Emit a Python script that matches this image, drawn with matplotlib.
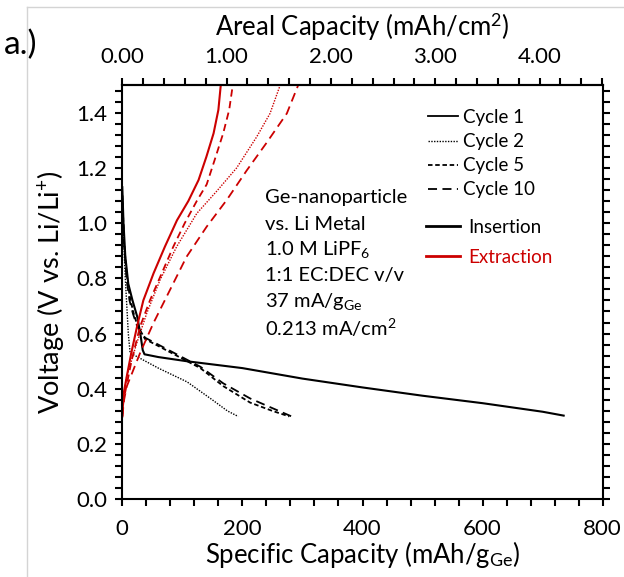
import matplotlib
matplotlib.use("Agg")
import matplotlib.pyplot as plt
from matplotlib.ticker import MultipleLocator, FormatStrFormatter
from matplotlib.lines import Line2D

FONT = "Lato"
plt.rcParams['font.family'] = [FONT, 'DejaVu Sans']
plt.rcParams['mathtext.fontset'] = 'custom'
plt.rcParams['mathtext.rm'] = FONT
plt.rcParams['mathtext.it'] = FONT + ':italic'
plt.rcParams['mathtext.bf'] = FONT + ':bold'

# ---------------- data ----------------
# Insertion (black)
ins_c1_x = [0, 2, 5, 10, 17, 25, 30, 34, 37, 60, 107, 200, 300, 400, 500, 600, 700, 735]
ins_c1_y = [1.13, 1.0, 0.88, 0.78, 0.72, 0.66, 0.60, 0.54, 0.525, 0.515, 0.50, 0.475, 0.437, 0.405, 0.375, 0.348, 0.317, 0.303]

ins_c2_x = [0, 2, 5, 8, 10, 13, 30, 60, 108, 150, 175, 193]
ins_c2_y = [1.10, 0.95, 0.80, 0.68, 0.60, 0.53, 0.51, 0.475, 0.425, 0.36, 0.32, 0.30]

ins_c5_x = [0, 3, 7, 12, 18, 25, 38, 60, 108, 130, 168, 213, 250, 278]
ins_c5_y = [1.10, 0.93, 0.82, 0.74, 0.68, 0.63, 0.58, 0.555, 0.50, 0.475, 0.41, 0.35, 0.32, 0.30]

ins_c10_x = [0, 3, 7, 12, 18, 25, 38, 60, 108, 130, 168, 213, 250, 282]
ins_c10_y = [1.10, 0.92, 0.80, 0.72, 0.67, 0.625, 0.585, 0.56, 0.505, 0.48, 0.42, 0.365, 0.33, 0.30]

# Extraction (red)
ext_c1_x = [0, 2, 7, 15, 25, 35, 52, 71, 91, 110, 127, 140, 152, 160, 164]
ext_c1_y = [0.30, 0.38, 0.44, 0.53, 0.63, 0.72, 0.818, 0.915, 1.01, 1.08, 1.156, 1.24, 1.325, 1.41, 1.50]

ext_c2_x = [0, 3, 7.3, 24, 40.6, 62.8, 90.6, 124, 157, 190.5, 224, 246, 263]
ext_c2_y = [0.30, 0.38, 0.444, 0.565, 0.673, 0.794, 0.915, 1.035, 1.115, 1.2, 1.313, 1.397, 1.50]

ext_c5_x = [0, 2, 4.5, 15.6, 29.5, 46, 65.6, 85, 104, 124, 140.5, 154, 168, 178, 184]
ext_c5_y = [0.30, 0.36, 0.384, 0.504, 0.625, 0.72, 0.818, 0.915, 1.0, 1.08, 1.14, 1.23, 1.325, 1.41, 1.50]

ext_c10_x = [0, 3, 7.3, 29.5, 51.6, 79.4, 107, 140.5, 174, 207, 240, 274, 293]
ext_c10_y = [0.30, 0.36, 0.408, 0.529, 0.637, 0.758, 0.878, 0.987, 1.084, 1.19, 1.29, 1.397, 1.50]

cycle_labels = ["Cycle 1", "Cycle 2", "Cycle 5", "Cycle 10"]
process_labels = ["Insertion", "Extraction"]
x_ticks = [0, 200, 400, 600, 800]
y_ticks = [0.0, 0.2, 0.4, 0.6, 0.8, 1.0, 1.2, 1.4]
areal_ticks = [0.0, 1.0, 2.0, 3.0, 4.0]
current_specific = 37.0     # mA/g
current_areal = 0.213       # mA/cm2
annotation_lines = ["Ge-nanoparticle", "vs. Li Metal", "1.0 M LiPF$_{6}$",
                    "1:1 EC:DEC v/v", "37 mA/g$_{\\mathrm{Ge}}$", "0.213 mA/cm$^{2}$"]

# ---------------- styles ----------------
RED = "#cc0000"
styles = [dict(ls="-"), dict(ls=(0, (1, 1))), dict(ls=(0, (2.5, 1.5))), dict(ls=(0, (5, 3)))]
red_styles = [dict(ls="-"), dict(ls=(0, (1, 1))), dict(ls=(0, (4, 2.5))), dict(ls=(0, (5, 3)))]

W, H = 624, 577
fig = plt.figure(figsize=(W / 100, H / 100), dpi=100)
ax = fig.add_axes([122.3 / W, 1 - 499.3 / H, (602.7 - 122.3) / W, (499.3 - 85) / H])

ins = [(ins_c1_x, ins_c1_y), (ins_c2_x, ins_c2_y), (ins_c5_x, ins_c5_y), (ins_c10_x, ins_c10_y)]
ext = [(ext_c1_x, ext_c1_y), (ext_c2_x, ext_c2_y), (ext_c5_x, ext_c5_y), (ext_c10_x, ext_c10_y)]
lws = [1.5, 1.0, 1.3, 1.3]
for (x, y), st, lw in zip(ins, styles, lws):
    ax.plot(x, y, color="black", lw=lw, **st)
for (x, y), st, lw in zip(ext, red_styles, lws):
    ax.plot(x, y, color=RED, lw=lw, **st)

ax.set_xlim(0, 800)
ax.set_ylim(0, 1.5)
ax.set_xticks(x_ticks)
ax.set_yticks(y_ticks)
ax.xaxis.set_minor_locator(MultipleLocator(40))
ax.yaxis.set_minor_locator(MultipleLocator(0.04))
ax.yaxis.set_major_formatter(FormatStrFormatter('%.1f'))
for s in ax.spines.values():
    s.set_linewidth(1.5)
ax.tick_params(which='both', direction='out', length=5, width=1.5, labelsize=16,
               bottom=True, left=True, right=True, top=False, pad=6)
ax.tick_params(axis='x', pad=9)

ax.set_xlabel("Specific Capacity (mAh/g$_{\\mathrm{Ge}}$)", fontsize=18.5, labelpad=0)
ax.set_ylabel("Voltage (V vs. Li/Li$^{+}$)", fontsize=19.5, labelpad=7)

fac = current_areal / current_specific
sec = ax.secondary_xaxis('top', functions=(lambda v: v * fac, lambda v: v / fac))
sec.set_xticks(areal_ticks)
sec.xaxis.set_minor_locator(MultipleLocator(0.2))
sec.xaxis.set_major_formatter(FormatStrFormatter('%.2f'))
sec.tick_params(which='both', direction='out', length=5, width=1.5, labelsize=16, pad=8)
sec.spines['top'].set_linewidth(1.5)
sec.set_xlabel("Areal Capacity (mAh/cm$^{2}$)", fontsize=18.5, labelpad=8)

# legends
h1 = [Line2D([], [], color="black", lw=lw, **st) for st, lw in zip(styles, [1.3, 1.0, 1.3, 1.3])]
leg1 = ax.legend(h1, cycle_labels, loc='upper left', bbox_to_anchor=(428 / W, 1 - 109 / H),
                 bbox_transform=fig.transFigure, frameon=False, fontsize=13.5,
                 handlelength=1.6, handletextpad=0.27, labelspacing=0.38, borderpad=0, borderaxespad=0)
ax.add_artist(leg1)
h2 = [Line2D([], [], color="black", lw=2.0), Line2D([], [], color=RED, lw=2.0)]
leg2 = ax.legend(h2, process_labels, loc='upper left', bbox_to_anchor=(426 / W, 1 - 219 / H),
                 bbox_transform=fig.transFigure, frameon=False, fontsize=13.5,
                 handlelength=1.8, handletextpad=0.43, labelspacing=0.68, borderpad=0, borderaxespad=0)
leg2.get_texts()[1].set_color(RED)

# annotation block
for i, line in enumerate(annotation_lines):
    fig.text(265 / W, 1 - (198 + 26 * i) / H, line, fontsize=14.5, va='center', ha='left')

fig.text(4 / W, 1 - 45 / H, "a.)", fontsize=24, va='center', ha='left')

# light frame lines
fig.add_artist(Line2D([27 / W, 27 / W], [0, 1 - 7 / H], color="#d4d4d4", lw=1))
fig.add_artist(Line2D([27 / W, 1], [1 - 7 / H, 1 - 7 / H], color="#d4d4d4", lw=1))

fig.savefig("out.png", dpi=100)
